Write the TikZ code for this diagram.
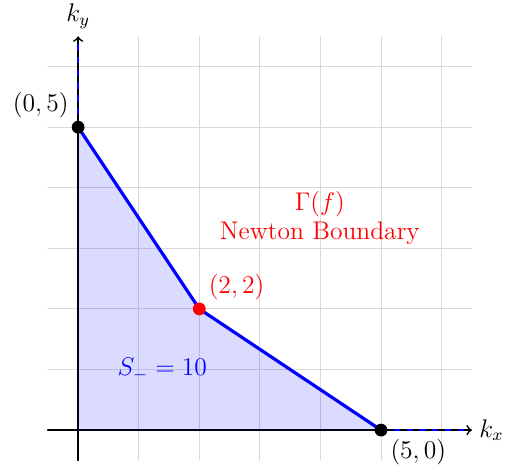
\documentclass[tikz,border=0pt]{standalone}
\usetikzlibrary{positioning}
\begin{document}
\begin{tikzpicture}[every node/.style={font=\large}]
% Newton polygon of f with the region under its boundary
\def\cellsz{1cm}
\providecommand{\newtGridColor}{black!15}
\providecommand{\newtEdgeWidth}{1.5pt}
\providecommand{\newtDotRadius}{3pt}
\tikzset{
  vertexdot/.style={circle, fill=black, inner sep=0pt, minimum size=2*\newtDotRadius},
  ptlabel/.style={inner sep=2pt},
}
\useasboundingbox (-1.29,-0.66) rectangle (7.08,7.10);
\begin{scope}[x=\cellsz, y=\cellsz, line cap=round, line join=round]
  % Grid
  \draw[draw=\newtGridColor, line width=0.4pt] (-0.5,-0.5) grid (6.5,6.5);
  % Axes
  \draw[->, thick] (-0.5,0) -- (6.5,0) coordinate (xend);
  \draw[->, thick] (0,-0.5) -- (0,6.5) coordinate (yend);
  \node[anchor=west] (kx) at (xend) {$k_x$};
  \node[anchor=south] (ky) at (yend) {$k_y$};
  % Region below the boundary
  \fill[blue, fill opacity=0.14] (0,0) -- (0,5) -- (2,2) -- (5,0) -- cycle;
  % Vertices
  \coordinate (A) at (0,5);
  \coordinate (B) at (2,2);
  \coordinate (C) at (5,0);
  % Unbounded faces along the axes
  \draw[blue, dashed, thick, line cap=butt] (A) -- (0,6.42);
  \draw[blue, dashed, thick, line cap=butt] (C) -- (6.42,0);
  % Newton boundary
  \draw[blue, line width=\newtEdgeWidth] (A) -- (B) -- (C);
  \node[vertexdot] (dA) at (A) {};
  \node[vertexdot] (dC) at (C) {};
  \node[vertexdot, fill=red] (dB) at (B) {};
  % Labels
  \node[ptlabel, anchor=south east] (lA) at (dA.north west) {$(0,5)$};
  \node[ptlabel, anchor=north west] (lC) at (dC.south east) {$(5,0)$};
  \node[ptlabel, anchor=south west, text=red] (lB) at (dB.north east) {$(2,2)$};
  \node[text=red, align=center] (gamma) at (3.99,3.5) {$\Gamma(f)$\\Newton Boundary};
  \node[text=blue] (area) at (1.39,1.0) {$S_-=10$};
\end{scope}
\end{tikzpicture}
\end{document}
